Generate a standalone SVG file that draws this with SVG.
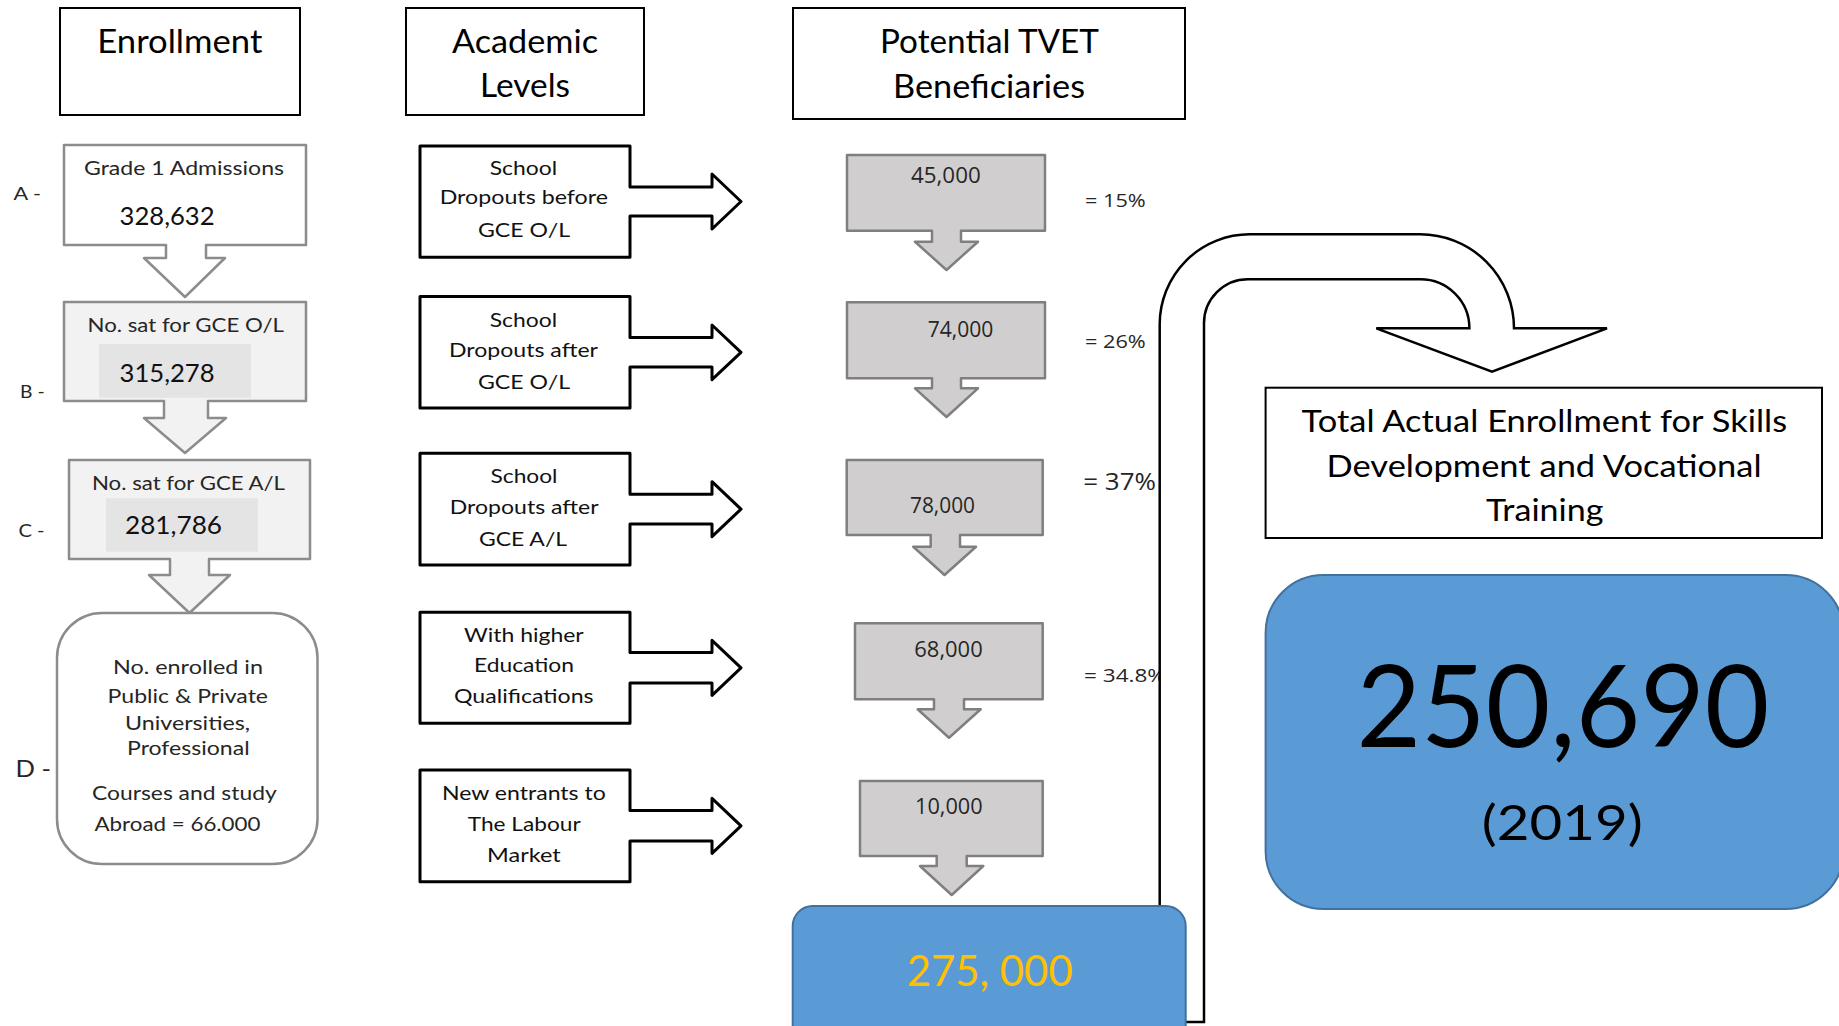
<svg xmlns="http://www.w3.org/2000/svg" width="1839" height="1026" viewBox="0 0 1839 1026">
<style>
text{font-family:Lato,"Liberation Sans",sans-serif}
.hdr{fill:#fff;stroke:#000;stroke-width:2}
.ht{font-size:32px;fill:#000}
.lb{stroke:#8c8c8c;stroke-width:2.5;stroke-linejoin:round}
.lt{font-size:18.5px;fill:#262626}
.ln{font-size:25px;fill:#111}
.ab{fill:#fff;stroke:#000;stroke-width:3;stroke-linejoin:round}
.at{font-size:19px;fill:#111}
.pb{fill:#d0cece;stroke:#7f7f7f;stroke-width:2.5;stroke-linejoin:round}
.pt{font-size:21px;fill:#262626;font-family:"Open Sans",Lato,sans-serif}
.pc{font-size:19px;fill:#262626;font-family:"Open Sans",Lato,sans-serif}
.blue{fill:#5b9bd5;stroke:#41719c;stroke-width:2}
.tt{font-size:31px;fill:#000}
</style>

<g id="hdr-enrollment"><rect class="hdr" x="60" y="8" width="240" height="107"/>
<text class="ht" x="97.3" y="53" textLength="165" lengthAdjust="spacingAndGlyphs">Enrollment</text></g>
<g id="hdr-academic"><rect class="hdr" x="406" y="8" width="238" height="107"/>
<text class="ht" x="452" y="53" textLength="146" lengthAdjust="spacingAndGlyphs">Academic</text>
<text class="ht" x="480" y="97" textLength="90" lengthAdjust="spacingAndGlyphs">Levels</text></g>
<g id="hdr-potential"><rect class="hdr" x="793" y="8" width="392" height="111"/>
<text class="ht" x="880" y="53" textLength="219" lengthAdjust="spacingAndGlyphs">Potential TVET</text>
<text class="ht" x="893" y="98" textLength="192" lengthAdjust="spacingAndGlyphs">Beneficiaries</text></g>

<g id="labels">
<text class="lt" style="font-size:17px" x="13.4" y="200" textLength="27.6" lengthAdjust="spacingAndGlyphs">A -</text>
<text class="lt" style="font-size:17px" x="20" y="398" textLength="24.6" lengthAdjust="spacingAndGlyphs">B -</text>
<text class="lt" style="font-size:17px" x="18.4" y="537.3" textLength="26.2" lengthAdjust="spacingAndGlyphs">C -</text>
<text class="lt" style="font-size:23px" x="15.5" y="776.7" textLength="35.5" lengthAdjust="spacingAndGlyphs">D -</text>
</g>

<g id="enr-a"><path class="lb" fill="#fff" d="M64,145 H306 V245 H206 V258 H225 L185,297 L144,258 H166 V245 H64 Z"/>
<text class="lt" x="84" y="175" textLength="200" lengthAdjust="spacingAndGlyphs">Grade 1 Admissions</text>
<text class="ln" x="119.6" y="225" textLength="95" lengthAdjust="spacingAndGlyphs">328,632</text></g>

<g id="enr-b"><path class="lb" fill="#f2f2f2" d="M64,302 H306 V401 H208 V418 H226 L185,453 L144,418 H164 V401 H64 Z"/>
<rect x="99" y="344" width="152" height="53.7" fill="#e4e4e4"/>
<text class="lt" x="87.5" y="331.7" textLength="196.5" lengthAdjust="spacingAndGlyphs">No. sat for GCE O/L</text>
<text class="ln" x="119.6" y="381.7" textLength="95" lengthAdjust="spacingAndGlyphs">315,278</text></g>

<g id="enr-c"><path class="lb" fill="#f2f2f2" d="M69,460 H310 V559 H209 V575 H230 L189.5,613 L149,575 H170 V559 H69 Z"/>
<rect x="106" y="498.3" width="152" height="53.4" fill="#e4e4e4"/>
<text class="lt" x="92" y="490" textLength="193" lengthAdjust="spacingAndGlyphs">No. sat for GCE A/L</text>
<text class="ln" x="125" y="534.3" textLength="97" lengthAdjust="spacingAndGlyphs">281,786</text></g>

<g id="enr-d"><rect class="lb" fill="#fff" x="57" y="613" width="260.5" height="251" rx="45"/>
<text class="lt" style="font-size:19.5px" x="113" y="674" textLength="150" lengthAdjust="spacingAndGlyphs">No. enrolled in</text>
<text class="lt" style="font-size:19.5px" x="107.6" y="702.7" textLength="160.4" lengthAdjust="spacingAndGlyphs">Public &amp; Private</text>
<text class="lt" style="font-size:19.5px" x="125" y="730" textLength="125" lengthAdjust="spacingAndGlyphs">Universities,</text>
<text class="lt" style="font-size:19.5px" x="127" y="755" textLength="122.6" lengthAdjust="spacingAndGlyphs">Professional</text>
<text class="lt" style="font-size:19.5px" x="92" y="800" textLength="184.7" lengthAdjust="spacingAndGlyphs">Courses and study</text>
<text class="lt" style="font-size:19.5px" x="94.5" y="830.7" textLength="166" lengthAdjust="spacingAndGlyphs">Abroad = 66.000</text></g>

<g id="acad-1"><path class="ab" d="M420,146 H630 V187 H712 V174 L741,201.5 L712,229 V216 H630 V257.3 H420 Z"/>
<text class="at" x="489.7" y="175" textLength="67.4" lengthAdjust="spacingAndGlyphs">School</text>
<text class="at" x="439.7" y="204" textLength="168.3" lengthAdjust="spacingAndGlyphs">Dropouts before</text>
<text class="at" x="478" y="237.3" textLength="92" lengthAdjust="spacingAndGlyphs">GCE O/L</text></g>

<g id="acad-2"><path class="ab" d="M420,296.5 H630 V337.5 H712 V325 L741,352.3 L712,379.7 V367 H630 V408 H420 Z"/>
<text class="at" x="489.7" y="326.7" textLength="67.4" lengthAdjust="spacingAndGlyphs">School</text>
<text class="at" x="449" y="356.7" textLength="149" lengthAdjust="spacingAndGlyphs">Dropouts after</text>
<text class="at" x="478" y="389.3" textLength="92" lengthAdjust="spacingAndGlyphs">GCE O/L</text></g>

<g id="acad-3"><path class="ab" d="M420,453.3 H630 V494.3 H712 V481.7 L741,509.2 L712,536.7 V524 H630 V565 H420 Z"/>
<text class="at" x="490.5" y="483.3" textLength="67" lengthAdjust="spacingAndGlyphs">School</text>
<text class="at" x="449.8" y="514" textLength="148.8" lengthAdjust="spacingAndGlyphs">Dropouts after</text>
<text class="at" x="479" y="546" textLength="88" lengthAdjust="spacingAndGlyphs">GCE A/L</text></g>

<g id="acad-4"><path class="ab" d="M420,612.3 H630 V652.5 H712 V640.3 L741,667.8 L712,695.3 V683 H630 V723.3 H420 Z"/>
<text class="at" x="464" y="641.7" textLength="119.7" lengthAdjust="spacingAndGlyphs">With higher</text>
<text class="at" x="474" y="672.3" textLength="100" lengthAdjust="spacingAndGlyphs">Education</text>
<text class="at" x="454" y="702.7" textLength="139.6" lengthAdjust="spacingAndGlyphs">Qualifications</text></g>

<g id="acad-5"><path class="ab" d="M420,770 H630 V810.5 H712 V798.3 L741,825.8 L712,853.3 V841 H630 V881.7 H420 Z"/>
<text class="at" x="442" y="800" textLength="163.8" lengthAdjust="spacingAndGlyphs">New entrants to</text>
<text class="at" x="467.7" y="830.7" textLength="113" lengthAdjust="spacingAndGlyphs">The Labour</text>
<text class="at" x="487" y="861.7" textLength="73.7" lengthAdjust="spacingAndGlyphs">Market</text></g>

<g id="pot-1"><path class="pb" d="M847,155 H1045 V230.7 H961 V241.7 H978 L946.5,270 L915,241.7 H932 V230.7 H847 Z"/>
<text class="pt" x="911" y="183.3" textLength="69.7" lengthAdjust="spacingAndGlyphs">45,000</text></g>
<g id="pot-2"><path class="pb" d="M847,302.3 H1045 V378.3 H961 V388.3 H978 L946.5,417 L915,388.3 H932 V378.3 H847 Z"/>
<text class="pt" x="927.7" y="337.3" textLength="65.6" lengthAdjust="spacingAndGlyphs">74,000</text></g>
<g id="pot-3"><path class="pb" d="M846.7,460 H1042.7 V535 H960 V546.7 H976 L944.5,575 L913.3,546.7 H930.7 V535 H846.7 Z"/>
<text class="pt" x="910" y="513" textLength="65" lengthAdjust="spacingAndGlyphs">78,000</text></g>
<g id="pot-4"><path class="pb" d="M855,623.3 H1042.7 V699.3 H964 V709.3 H980.7 L949,737.7 L917.7,709.3 H934 V699.3 H855 Z"/>
<text class="pt" x="914.3" y="656.7" textLength="68.4" lengthAdjust="spacingAndGlyphs">68,000</text></g>
<g id="pot-5"><path class="pb" d="M860,781 H1042.7 V856 H966.7 V866 H983.3 L951.7,895 L920,866 H936.7 V856 H860 Z"/>
<text class="pt" x="915" y="814.3" textLength="67.7" lengthAdjust="spacingAndGlyphs">10,000</text></g>

<g id="percents">
<text class="pc" x="1085" y="207.3" textLength="60.7" lengthAdjust="spacingAndGlyphs">= 15%</text>
<text class="pc" x="1085" y="348.3" textLength="60.7" lengthAdjust="spacingAndGlyphs">= 26%</text>
<text class="pc" style="font-size:23px" x="1083.3" y="490" textLength="72.7" lengthAdjust="spacingAndGlyphs">= 37%</text>
<text class="pc" x="1084" y="681.7" textLength="82" lengthAdjust="spacingAndGlyphs">= 34.8%</text>
</g>

<g id="connectors">
<path fill="#fff" stroke="#000" stroke-width="2.5" stroke-linejoin="miter" d="M1159.7,1022 L1159.7,324 A90,90 0 0 1 1249.7,234.3 L1420,234.3 A94,94 0 0 1 1514,328.3 L1607,328.3 L1492,371.7 L1376.3,328.3 L1469.4,328.3 A49,49 0 0 0 1420.4,279.3 L1248,279.3 A44,44 0 0 0 1204,323.3 L1204,1022 Z"/>
</g>

<g id="total-potential"><rect class="blue" x="792.7" y="906" width="393" height="150" rx="20"/>
<text x="906.7" y="986" style="font-size:42px;fill:#ffc000" textLength="166" lengthAdjust="spacingAndGlyphs">275, 000</text></g>

<g id="total-actual-title"><rect fill="#fff" stroke="#000" stroke-width="2" x="1265.6" y="387.7" width="556.4" height="150.3"/>
<text class="tt" x="1301.6" y="431.7" textLength="485.5" lengthAdjust="spacingAndGlyphs">Total Actual Enrollment for Skills</text>
<text class="tt" x="1326.6" y="476.7" textLength="435" lengthAdjust="spacingAndGlyphs">Development and Vocational</text>
<text class="tt" x="1486" y="520.5" textLength="117.5" lengthAdjust="spacingAndGlyphs">Training</text></g>

<g id="total-actual-value"><rect class="blue" x="1265.6" y="575" width="578" height="334" rx="58"/>
<text x="1356.5" y="747.3" style="font-size:114px;fill:#000" textLength="413" lengthAdjust="spacingAndGlyphs">250,690</text>
<text x="1481.8" y="839.5" style="font-size:49px;fill:#000" textLength="161" lengthAdjust="spacingAndGlyphs">(2019)</text></g>
</svg>
